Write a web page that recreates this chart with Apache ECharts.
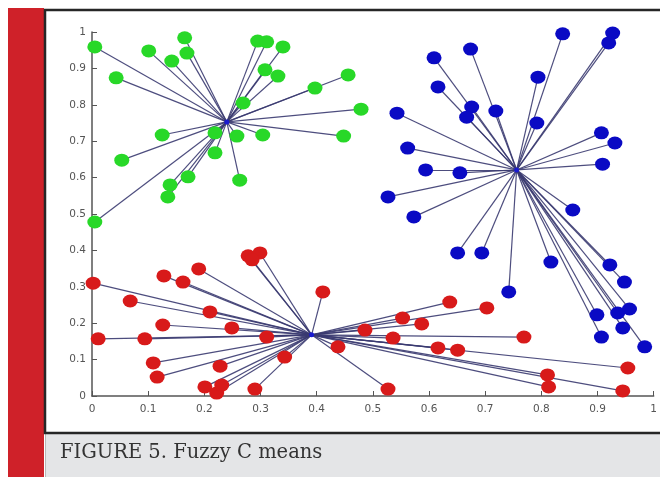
<!DOCTYPE html>
<html>
<head>
<meta charset="utf-8">
<script src="https://cdn.jsdelivr.net/npm/echarts@6/dist/echarts.min.js"></script>
<style>
html,body{margin:0;padding:0;background:#fff;}
#c{width:660px;height:477px;}
</style>
</head>
<body>
<div id="c"></div>
<script>
// Tick labels
var xTicks = ['0','0.1','0.2','0.3','0.4','0.5','0.6','0.7','0.8','0.9','1'];
var yTicks = ['0','0.1','0.2','0.3','0.4','0.5','0.6','0.7','0.8','0.9','1'];

// Cluster centres
var greenCenter = [0.240, 0.753];
var blueCenter = [0.756, 0.621];
var redCenter = [0.391, 0.168];

// Cluster points
var greenPoints = [
  [0.005,0.959],[0.043,0.874],[0.101,0.948],[0.165,0.984],[0.169,0.942],[0.142,0.920],
  [0.295,0.975],[0.311,0.973],[0.340,0.959],[0.308,0.896],[0.331,0.879],[0.397,0.846],
  [0.456,0.882],[0.479,0.788],[0.448,0.714],[0.269,0.805],[0.125,0.717],[0.053,0.648],
  [0.005,0.478],[0.139,0.580],[0.171,0.602],[0.135,0.547],[0.263,0.593],[0.219,0.668],
  [0.219,0.723],[0.258,0.714],[0.304,0.717]
];
var bluePoints = [
  [0.838,0.995],[0.927,0.997],[0.920,0.970],[0.674,0.953],[0.609,0.929],[0.794,0.876],
  [0.616,0.849],[0.676,0.794],[0.667,0.766],[0.719,0.783],[0.792,0.750],[0.543,0.777],
  [0.907,0.723],[0.931,0.695],[0.909,0.637],[0.562,0.681],[0.594,0.621],[0.655,0.613],
  [0.527,0.547],[0.573,0.492],[0.856,0.511],[0.651,0.393],[0.694,0.393],[0.742,0.286],
  [0.817,0.368],[0.922,0.360],[0.948,0.313],[0.899,0.223],[0.936,0.228],[0.957,0.239],
  [0.945,0.187],[0.907,0.162],[0.984,0.135]
];
var redPoints = [
  [0.002,0.310],[0.068,0.261],[0.011,0.157],[0.094,0.157],[0.126,0.195],[0.128,0.330],
  [0.162,0.313],[0.190,0.349],[0.210,0.231],[0.249,0.187],[0.311,0.162],[0.278,0.385],
  [0.299,0.393],[0.285,0.374],[0.109,0.091],[0.116,0.052],[0.228,0.082],[0.201,0.025],
  [0.222,0.008],[0.231,0.030],[0.290,0.019],[0.343,0.107],[0.411,0.286],[0.438,0.135],
  [0.527,0.019],[0.486,0.181],[0.553,0.214],[0.587,0.198],[0.637,0.258],[0.536,0.159],
  [0.616,0.132],[0.651,0.126],[0.703,0.242],[0.769,0.162],[0.954,0.077],[0.811,0.058],
  [0.813,0.025],[0.945,0.014]
];

var caption = 'FIGURE 5. Fuzzy C means';

function spokes(center, pts){
  return pts.map(function(p){ return {coords:[center, p]}; });
}

var chart = echarts.init(document.getElementById('c'), null, {renderer:'canvas'});
var axisCol = '#555555';
var lineCol = '#3a3a70';
var option = {
  animation:false,
  backgroundColor:'#ffffff',
  graphic:[
    {type:'rect', z:-10, shape:{x:8,y:8,width:36,height:469}, style:{fill:'#cf2129'}},
    {type:'rect', z:-10, shape:{x:45,y:434,width:615,height:43}, style:{fill:'#e4e5e7'}},
    {type:'line', z:-5, shape:{x1:45.5,y1:434,x2:45.5,y2:477}, style:{stroke:'#b8b8b8',lineWidth:1}},
    {type:'rect', z:-5, shape:{x:45,y:10,width:620,height:423}, style:{fill:null,stroke:'#262626',lineWidth:2.5}},
    {type:'text', z:10, left:60, top:443, style:{text:caption, font:'19.5px "DejaVu Serif", serif', fill:'#333333'}}
  ],
  grid:{left:92, right:6, top:32, bottom:81, containLabel:false},
  xAxis:{
    type:'value', min:0, max:1, interval:0.1,
    axisLine:{show:true, lineStyle:{color:axisCol, width:1.5}},
    axisTick:{show:true, inside:true, length:5, lineStyle:{color:axisCol}},
    splitLine:{show:false},
    axisLabel:{color:'#555', fontSize:10.5, fontFamily:'DejaVu Sans', margin:8,
      formatter:function(v){ return xTicks[Math.round(v*10)]; }}
  },
  yAxis:{
    type:'value', min:0, max:1, interval:0.1,
    axisLine:{show:true, lineStyle:{color:axisCol, width:1.5}},
    axisTick:{show:true, inside:true, length:5, lineStyle:{color:axisCol}},
    splitLine:{show:false},
    axisLabel:{color:'#555', fontSize:10.5, fontFamily:'DejaVu Sans', margin:6,
      formatter:function(v){ return yTicks[Math.round(v*10)]; }}
  },
  series:[
    {type:'lines', coordinateSystem:'cartesian2d', z:2, silent:true,
      lineStyle:{color:lineCol, width:1.2, opacity:0.9}, data:spokes(greenCenter, greenPoints)},
    {type:'lines', coordinateSystem:'cartesian2d', z:2, silent:true,
      lineStyle:{color:lineCol, width:1.2, opacity:0.9}, data:spokes(blueCenter, bluePoints)},
    {type:'lines', coordinateSystem:'cartesian2d', z:2, silent:true,
      lineStyle:{color:lineCol, width:1.2, opacity:0.9}, data:spokes(redCenter, redPoints)},
    {type:'scatter', z:3, clip:false, symbol:'circle', symbolSize:[15,13],
      itemStyle:{color:'#28d828', opacity:1}, data:greenPoints},
    {type:'scatter', z:3, clip:false, symbol:'circle', symbolSize:[15,13],
      itemStyle:{color:'#0a0ac4', opacity:1}, data:bluePoints},
    {type:'scatter', z:3, clip:false, symbol:'circle', symbolSize:[15,13],
      itemStyle:{color:'#d81a1a', opacity:1}, data:redPoints},
    {type:'scatter', z:4, symbol:'circle', symbolSize:5,
      itemStyle:{color:'#1a1ad0', opacity:1}, data:[greenCenter, blueCenter, redCenter]}
  ]
};
chart.setOption(option);
</script>
</body>
</html>
